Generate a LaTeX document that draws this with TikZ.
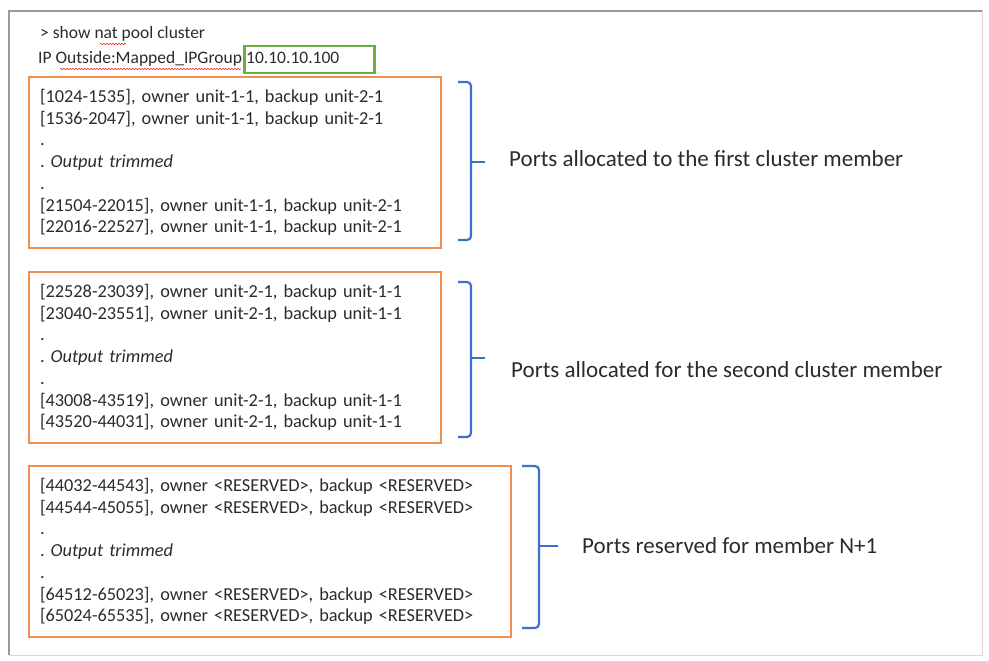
\documentclass[tikz,border=0pt]{standalone}
\usepackage{fontspec}
\setmainfont{Carlito}
\usetikzlibrary{decorations.pathmorphing}
\definecolor{txt}{HTML}{2B2B2B}
\definecolor{orng}{HTML}{F0904E}
\definecolor{grn}{HTML}{6AAE45}
\definecolor{blu}{HTML}{3F6FC8}
\definecolor{frm}{HTML}{9A9A9A}
\tikzset{
  obox/.style={draw=orng, line width=2pt, align=left, inner xsep=11pt, inner ysep=0pt,
    text=txt, font=\fontsize{18.3}{21.7}\selectfont, anchor=north west, minimum height=171pt},
  gbox/.style={draw=grn, line width=2.5pt, inner sep=0pt, minimum width=130pt, minimum height=27pt},
  brk/.style={draw=blu, line width=2.2pt, rounded corners=4pt},
  lbl/.style={anchor=base west, text=txt, font=\fontsize{23}{26}\selectfont, inner sep=0pt},
  cmd/.style={anchor=base west, text=txt, font=\fontsize{17.5}{20}\selectfont, inner sep=0pt},
  squig/.style={draw=red!80, line width=0.6pt, decorate, decoration={snake, amplitude=0.8pt, segment length=3pt}}
}
\begin{document}
\frenchspacing
\begin{tikzpicture}[x=1pt,y=-1pt]
\useasboundingbox (0,0) rectangle (989,661);
% page frame with shadow
\draw[draw=frm!40, line width=1pt] (9,11) rectangle (982,655);
\draw[draw=frm, line width=2.5pt] (9,655) -- (9,11) -- (982,11);
% header
\node[cmd] (cmd) at (40,39) {> show nat pool cluster};
\node[cmd] (ip) at (38,64) {IP Outside:Mapped\_IPGroup};
\node[gbox, anchor=north west] (addr) at (243,45) {};
\node[cmd] (addrt) at (246,64) {10.10.10.100};
\draw[squig] (100,44) -- (126,44);
\draw[squig] (60,69) -- (241,69);
% boxes
\node[obox, text width=390pt] (b1) at (28,76) {%
{[}1024-1535], owner unit-1-1, backup unit-2-1\\
{[}1536-2047], owner unit-1-1, backup unit-2-1\\
.\\
. \textit{Output trimmed}\\
.\\
{[}21504-22015], owner unit-1-1, backup unit-2-1\\
{[}22016-22527], owner unit-1-1, backup unit-2-1};
\node[obox, text width=390pt] (b2) at (28,271) {%
{[}22528-23039], owner unit-2-1, backup unit-1-1\\
{[}23040-23551], owner unit-2-1, backup unit-1-1\\
.\\
. \textit{Output trimmed}\\
.\\
{[}43008-43519], owner unit-2-1, backup unit-1-1\\
{[}43520-44031], owner unit-2-1, backup unit-1-1};
\node[obox, text width=460pt] (b3) at (28,465) {%
{[}44032-44543], owner <RESERVED>, backup <RESERVED>\\
{[}44544-45055], owner <RESERVED>, backup <RESERVED>\\
.\\
. \textit{Output trimmed}\\
.\\
{[}64512-65023], owner <RESERVED>, backup <RESERVED>\\
{[}65024-65535], owner <RESERVED>, backup <RESERVED>};
% brackets
\draw[brk] (458,82) -- (471,82) -- (471,240) -- (458,240);
\draw[blu, line width=2.2pt] (471,162) -- (485,162);
\draw[brk] (458,282) -- (471,282) -- (471,437) -- (458,437);
\draw[blu, line width=2.2pt] (471,358) -- (485,358);
\draw[brk] (522,466) -- (539,466) -- (539,628) -- (522,628);
\draw[blu, line width=2.2pt] (539,546) -- (558,546);
% labels
\node[lbl] (l1) at (509,166) {Ports allocated to the first cluster member};
\node[lbl] (l2) at (511,377) {Ports allocated for the second cluster member};
\node[lbl] (l3) at (582,553) {Ports reserved for member N+1};
\end{tikzpicture}
\end{document}
